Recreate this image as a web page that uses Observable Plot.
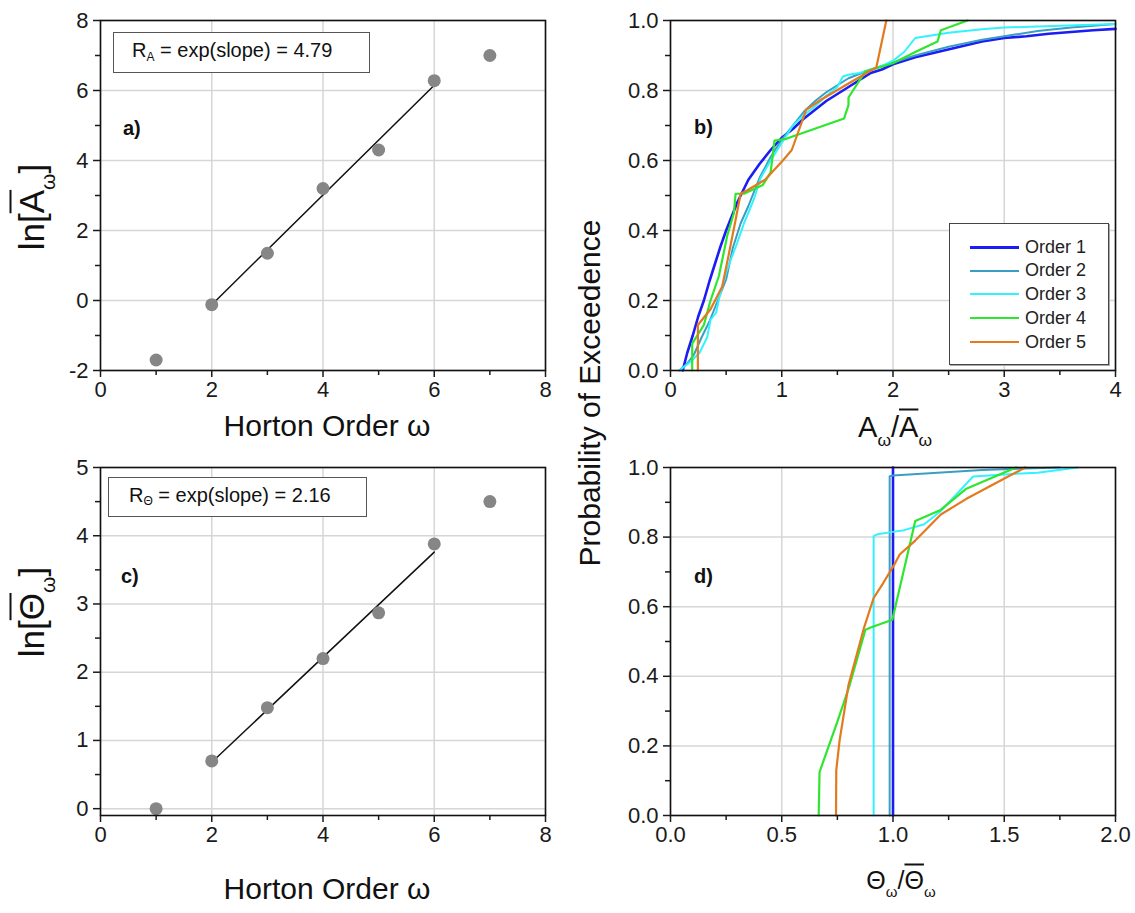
<!DOCTYPE html>
<html>
<head>
<meta charset="utf-8">
<script src="https://cdn.jsdelivr.net/npm/d3@7"></script>
<script src="https://cdn.jsdelivr.net/npm/@observablehq/plot@0.6"></script>
<style>
  body { margin: 0; background: #fff; }
  #root { position: relative; width: 1135px; height: 913px; font-family: "Liberation Sans", Arial, sans-serif; color: #111; overflow: hidden; }
  .lab { position: absolute; white-space: nowrap; line-height: 1; transform: translate(-50%, -50%); }
  .rot { transform: translate(-50%, -50%) rotate(-90deg); }
  .sub { position: relative; top: 0.5em; font-size: 0.6em; }
  .ov { text-decoration: overline; text-decoration-thickness: 0.06em; }
  .plab { position: absolute; font-weight: bold; font-size: 20px; line-height: 1; transform: translateY(-50%); }
  .box { position: absolute; border: 1.3px solid #555; box-sizing: border-box; background: #fff; font-size: 20px; display: flex; align-items: center; white-space: nowrap; }
  .legend { position: absolute; border: 1.5px solid #444; box-shadow: 1px 1px 0 #aaa; background: #fff; box-sizing: border-box; }
  .row { position: absolute; left: 0; height: 20px; display: flex; align-items: center; font-size: 18px; font-weight: normal; color: #222; }
  .row span.ln { display: inline-block; width: 49px; margin-left: 20px; margin-right: 6px; }
</style>
</head>
<body>
<div id="root"></div>
<script>
// ---------- Data ----------
// Panel a: ln of mean area per Horton order
const ordersA = [1, 2, 3, 4, 5, 6, 7];
const lnArea = [-1.7, -0.12, 1.35, 3.2, 4.3, 6.28, 7.0];
const fitAx = [2, 6];
const fitAy = [-0.12, 6.15];

// Panel c: ln of mean Theta per Horton order
const ordersC = [1, 2, 3, 4, 5, 6, 7];
const lnTheta = [0.0, 0.7, 1.48, 2.2, 2.87, 3.88, 4.5];
const fitCx = [2, 6];
const fitCy = [0.68, 3.76];

// Panel b: exceedance probability vs A/Abar
const b1x = [0.11, 0.15, 0.2, 0.25, 0.3, 0.35, 0.4, 0.45, 0.5, 0.55, 0.6, 0.7, 0.8, 0.9, 1.0, 1.1, 1.2, 1.3, 1.4, 1.5, 1.6, 1.7, 1.8, 1.9, 2.0, 2.2, 2.4, 2.6, 2.8, 3.0, 3.2, 3.4, 3.6, 3.8, 4.0];
const b1y = [0.0, 0.05, 0.1, 0.155, 0.2, 0.255, 0.305, 0.355, 0.4, 0.44, 0.48, 0.545, 0.59, 0.63, 0.665, 0.69, 0.72, 0.745, 0.77, 0.79, 0.81, 0.83, 0.85, 0.86, 0.875, 0.895, 0.91, 0.925, 0.94, 0.95, 0.955, 0.962, 0.967, 0.972, 0.976];
const b2x = [0.08, 0.15, 0.21, 0.28, 0.35, 0.4, 0.5, 0.56, 0.63, 0.7, 0.75, 0.8, 0.9, 1.0, 1.1, 1.2, 1.3, 1.4, 1.5, 1.6, 1.8, 2.0, 2.2, 2.5, 2.8, 3.0, 3.3, 3.6, 4.0];
const b2y = [0.0, 0.02, 0.045, 0.095, 0.14, 0.18, 0.26, 0.35, 0.42, 0.47, 0.51, 0.55, 0.61, 0.66, 0.7, 0.74, 0.77, 0.795, 0.815, 0.835, 0.86, 0.88, 0.9, 0.925, 0.945, 0.955, 0.97, 0.98, 0.99];
const b3x = [0.08, 0.18, 0.26, 0.33, 0.36, 0.41, 0.44, 0.5, 0.54, 0.6, 0.66, 0.75, 0.81, 0.9, 1.0, 1.1, 1.2, 1.3, 1.4, 1.5, 1.55, 1.6, 1.7, 1.8, 1.9, 2.0, 2.1, 2.2, 2.3, 2.5, 2.8, 3.0, 3.5, 4.0];
const b3y = [0.0, 0.025, 0.05, 0.095, 0.145, 0.165, 0.21, 0.28, 0.315, 0.365, 0.42, 0.49, 0.55, 0.6, 0.65, 0.7, 0.73, 0.755, 0.785, 0.81, 0.84, 0.845, 0.85, 0.86, 0.87, 0.885, 0.91, 0.95, 0.955, 0.965, 0.975, 0.98, 0.985, 0.99];
const b4x = [0.195, 0.195, 0.3, 0.36, 0.435, 0.51, 0.57, 0.585, 0.66, 0.83, 0.9, 0.935, 1.04, 1.56, 1.6, 1.6, 1.75, 2.0, 2.2, 2.4, 2.43, 2.67];
const b4y = [0.0, 0.077, 0.13, 0.2, 0.27, 0.385, 0.45, 0.505, 0.505, 0.53, 0.566, 0.657, 0.662, 0.72, 0.758, 0.78, 0.854, 0.878, 0.91, 0.94, 0.972, 1.0];
const b5x = [0.246, 0.246, 0.36, 0.465, 0.51, 0.585, 0.63, 0.69, 0.85, 1.01, 1.09, 1.22, 1.36, 1.6, 1.85, 1.94];
const b5y = [0.0, 0.13, 0.175, 0.24, 0.31, 0.43, 0.505, 0.515, 0.545, 0.6, 0.63, 0.745, 0.775, 0.82, 0.866, 1.0];

// Panel d: exceedance probability vs Theta/Thetabar
const d1x = [1.0, 1.0];
const d1y = [0.0, 1.0];
const d2x = [0.985, 0.985, 1.0, 1.4, 1.75];
const d2y = [0.0, 0.975, 0.977, 0.993, 1.0];
const d3x = [0.913, 0.913, 0.93, 1.0, 1.05, 1.14, 1.215, 1.36, 1.5, 1.65, 1.83];
const d3y = [0.0, 0.803, 0.808, 0.815, 0.82, 0.837, 0.875, 0.974, 0.98, 0.985, 1.0];
const d4x = [0.666, 0.67, 0.75, 0.803, 0.876, 0.9, 0.997, 1.1, 1.214, 1.327, 1.553];
const d4y = [0.0, 0.125, 0.27, 0.37, 0.534, 0.54, 0.5625, 0.846, 0.878, 0.938, 1.0];
const d5x = [0.744, 0.745, 0.76, 0.8, 0.87, 0.913, 0.956, 1.005, 1.03, 1.1, 1.215, 1.33, 1.594];
const d5y = [0.0, 0.13, 0.216, 0.375, 0.54, 0.625, 0.668, 0.72, 0.75, 0.79, 0.865, 0.91, 1.0];

const seriesNames = ["Order 1", "Order 2", "Order 3", "Order 4", "Order 5"];
const seriesColors = ["#1c1cf5", "#3a9ec4", "#33f2ff", "#2ee62e", "#e27a1e"];
const seriesWidths = [2.6, 2.0, 2.0, 2.2, 2.2];

// Tick values
const ticksA = {x: [0, 2, 4, 6, 8], y: [-2, 0, 2, 4, 6, 8], xm: [1, 3, 5, 7], ym: [-1, 1, 3, 5, 7]};
const ticksB = {x: [0, 1, 2, 3, 4], y: [0, 0.2, 0.4, 0.6, 0.8, 1.0], xm: [0.5, 1.5, 2.5, 3.5], ym: [0.1, 0.3, 0.5, 0.7, 0.9]};
const ticksC = {x: [0, 2, 4, 6, 8], y: [0, 1, 2, 3, 4, 5], xm: [1, 3, 5, 7], ym: [0.5, 1.5, 2.5, 3.5, 4.5]};
const ticksD = {x: [0, 0.5, 1.0, 1.5, 2.0], y: [0, 0.2, 0.4, 0.6, 0.8, 1.0], xm: [0.25, 0.75, 1.25, 1.75], ym: [0.1, 0.3, 0.5, 0.7, 0.9]};

// ---------- Drawing ----------
const root = document.getElementById("root");
const GRID = "#d6d6d6";
const TICKFONT = 22;
const fmtInt = d => String(d);            // plain hyphen minus, like the original
const fmt1 = d => d.toFixed(1);

function zip(xs, ys) { return xs.map((x, i) => ({x, y: ys[i]})); }

function makePanel(cfg) {
  const p = Plot.plot({
    width: cfg.width, height: cfg.height,
    marginLeft: cfg.ml, marginRight: cfg.mr, marginTop: cfg.mt, marginBottom: cfg.mb,
    x: {domain: cfg.xDomain, label: null},
    y: {domain: cfg.yDomain, label: null},
    style: {fontSize: TICKFONT + "px", fontFamily: '"Liberation Sans", Arial, sans-serif', color: "#1a1a1a", background: "transparent", overflow: "visible"},
    marks: [
      Plot.gridX(cfg.ticks.x, {stroke: GRID, strokeOpacity: 1, strokeWidth: 1.5}),
      Plot.gridY(cfg.ticks.y, {stroke: GRID, strokeOpacity: 1, strokeWidth: 1.5}),
      ...cfg.marks,
      Plot.frame({stroke: "#111", strokeWidth: 1.6}),
      Plot.axisX(cfg.ticks.x, {tickSize: 7, tickPadding: 4, strokeWidth: 1.5, fontSize: TICKFONT, tickFormat: cfg.xFmt, label: null}),
      Plot.axisX(cfg.ticks.xm, {tickSize: 5, strokeWidth: 1.5, fill: "none", label: null}),
      Plot.axisY(cfg.ticks.y, {tickSize: 7, tickPadding: 5, strokeWidth: 1.5, fontSize: TICKFONT, tickFormat: cfg.yFmt, label: null}),
      Plot.axisY(cfg.ticks.ym, {tickSize: 5, strokeWidth: 1.5, fill: "none", label: null})
    ]
  });
  p.style.position = "absolute";
  p.style.left = cfg.left + "px";
  p.style.top = cfg.top + "px";
  root.appendChild(p);
}

function seriesLines(list) {
  return list.map(([xs, ys], i) =>
    Plot.line(zip(xs, ys), {x: "x", y: "y", stroke: seriesColors[i], strokeWidth: seriesWidths[i], strokeLinejoin: "round"}));
}

// a)
makePanel({
  left: 0, top: 0, width: 567, height: 440, ml: 100, mr: 22, mt: 20, mb: 70,
  xDomain: [0, 8], yDomain: [-2, 8], ticks: ticksA, xFmt: fmtInt, yFmt: fmtInt,
  marks: [
    Plot.line(zip(fitAx, fitAy), {x: "x", y: "y", stroke: "#111", strokeWidth: 1.5}),
    Plot.dot(zip(ordersA, lnArea), {x: "x", y: "y", r: 6.5, fill: "#868686"})
  ]
});
// b)
makePanel({
  left: 570, top: 0, width: 565, height: 440, ml: 100, mr: 20, mt: 20, mb: 70,
  xDomain: [0, 4], yDomain: [0, 1], ticks: ticksB, xFmt: fmtInt, yFmt: fmt1,
  marks: seriesLines([[b1x, b1y], [b2x, b2y], [b3x, b3y], [b4x, b4y], [b5x, b5y]])
});
// c)
makePanel({
  left: 0, top: 447, width: 567, height: 440, ml: 100, mr: 22, mt: 20, mb: 72,
  xDomain: [0, 8], yDomain: [-0.1, 5], ticks: ticksC, xFmt: fmtInt, yFmt: fmtInt,
  marks: [
    Plot.line(zip(fitCx, fitCy), {x: "x", y: "y", stroke: "#111", strokeWidth: 1.5}),
    Plot.dot(zip(ordersC, lnTheta), {x: "x", y: "y", r: 6.5, fill: "#868686"})
  ]
});
// d)
makePanel({
  left: 570, top: 447, width: 565, height: 440, ml: 100, mr: 20, mt: 20, mb: 72,
  xDomain: [0, 2], yDomain: [0, 1], ticks: ticksD, xFmt: fmt1, yFmt: fmt1,
  marks: seriesLines([[d1x, d1y], [d2x, d2y], [d3x, d3y], [d4x, d4y], [d5x, d5y]])
});

// ---------- Text overlays ----------
function addHTML(html) { root.insertAdjacentHTML("beforeend", html); }

addHTML('<div class="lab rot" style="left:31px;top:207px;font-size:35px">ln[<span class="ov">A</span><span class="sub">ω</span>]</div>');
addHTML('<div class="lab rot" style="left:31px;top:612px;font-size:35px">ln[<span class="ov">Θ</span><span class="sub">ω</span>]</div>');
addHTML('<div class="lab rot" style="left:590px;top:393px;font-size:30px">Probability of Exceedence</div>');
addHTML('<div class="lab" style="left:327px;top:426px;font-size:30px">Horton Order ω</div>');
addHTML('<div class="lab" style="left:327px;top:889px;font-size:30px">Horton Order ω</div>');
addHTML('<div class="lab" style="left:895px;top:427px;font-size:29px">A<span class="sub">ω</span>/<span class="ov">A</span><span class="sub">ω</span></div>');
addHTML('<div class="lab" style="left:901px;top:880px;font-size:25px">Θ<span class="sub">ω</span>/<span class="ov">Θ</span><span class="sub">ω</span></div>');

addHTML('<div class="plab" style="left:123px;top:128px">a)</div>');
addHTML('<div class="plab" style="left:694px;top:127px">b)</div>');
addHTML('<div class="plab" style="left:121px;top:576px">c)</div>');
addHTML('<div class="plab" style="left:694px;top:576px">d)</div>');

addHTML('<div class="box" style="left:113px;top:32px;width:257px;height:41px;padding-left:18px;padding-bottom:4px">R<span class="sub">A</span>&nbsp;= exp(slope) = 4.79</div>');
addHTML('<div class="box" style="left:108px;top:477px;width:259px;height:40px;padding-left:20px;padding-bottom:4px">R<span class="sub">Θ</span>&nbsp;= exp(slope) = 2.16</div>');

// legend
let rows = "";
const rowCenters = [23, 46.5, 70, 94, 118];
seriesNames.forEach((name, i) => {
  rows += `<div class="row" style="top:${rowCenters[i] - 10}px"><span class="ln" style="border-top:${seriesWidths[i] + 0.5}px solid ${seriesColors[i]}"></span>${name}</div>`;
});
addHTML(`<div class="legend" style="left:949px;top:223px;width:160px;height:142px">${rows}</div>`);
</script>
</body>
</html>
